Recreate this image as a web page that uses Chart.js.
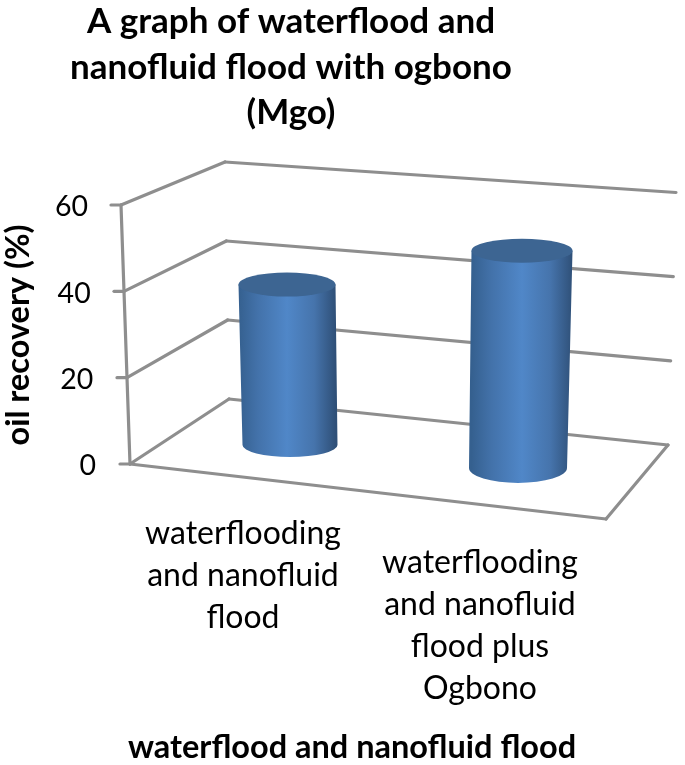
<!DOCTYPE html>
<html>
<head>
<meta charset="utf-8">
<script src="https://cdn.jsdelivr.net/npm/chart.js@4/dist/chart.umd.min.js"></script>
<style>
  html, body { margin: 0; padding: 0; background: #fff; }
  canvas { display: block; }
</style>
</head>
<body>
<canvas id="chart" width="685" height="765"></canvas>
<script>
const categories = ['waterflooding and nanofluid flood', 'waterflooding and nanofluid flood plus Ogbono'];
const categoryLines = [
    ['waterflooding', 'and nanofluid', 'flood'],
    ['waterflooding', 'and nanofluid', 'flood plus', 'Ogbono']
];
const recovery = [39, 52];
const yTicks = [0, 20, 40, 60];
const titleLines = ['A graph of waterflood and', 'nanofluid flood with ogbono', '(Mgo)'];
const xTitle = 'waterflood and nanofluid flood';
const yTitle = 'oil recovery (%)';

const FONT = 'Lato, "Open Sans", sans-serif';
const GRID = '#8e8e8e';

// the fake 3D box: how the flat scale maps onto the back wall and the floor
const backLeft = { x: 229, y: 399, ratio: 0.915, lean: -4 };
const backRight = { x: 668, y: 445, ratio: 0.975, lean: 8 };
const frontRight = { x: 606, y: 519 };
const axisLean = -9;
const tickLen = 10;

// where each cylinder stands on the floor, and how much depth shrinks it
const cylinders = [
    { dx: 41, dy: -19, shrink: 0.953, rTop: 48.5, rBase: 47.5, ry: 12, ryBase: 12, lean: -3 },
    { dx: 31, dy: 4, shrink: 0.968, rTop: 50.5, rBase: 49, ry: 12, ryBase: 15, lean: 4 }
];

function line(ctx, x1, y1, x2, y2) {
    ctx.beginPath();
    ctx.moveTo(x1, y1);
    ctx.lineTo(x2, y2);
    ctx.stroke();
}

const box3d = {
    id: 'box3d',
    beforeDatasetsDraw(chart) {
        const { ctx, scales: { x, y } } = chart;
        const y0 = y.getPixelForValue(0);
        const left = x.left;
        ctx.save();
        ctx.strokeStyle = GRID;
        ctx.lineWidth = 3.2;
        ctx.lineCap = 'round';
        ctx.lineJoin = 'round';
        yTicks.forEach(v => {
            const py = y.getPixelForValue(v);
            const t = v / 60;
            const ax = left + axisLean * t;
            const blx = backLeft.x + backLeft.lean * t;
            const bly = backLeft.y + (py - y0) * backLeft.ratio;
            const brx = backRight.x + backRight.lean * t;
            const bry = backRight.y + (py - y0) * backRight.ratio;
            line(ctx, ax - tickLen, py, ax, py);
            line(ctx, ax, py, blx, bly);
            line(ctx, blx, bly, brx, bry);
        });
        line(ctx, left, y0, left + axisLean, y.getPixelForValue(60));
        // floor
        line(ctx, left, y0, frontRight.x, frontRight.y);
        line(ctx, frontRight.x, frontRight.y, backRight.x, backRight.y);
        ctx.restore();
    },
    afterDatasetsDraw(chart) {
        const { ctx } = chart;
        chart.getDatasetMeta(0).data.forEach((bar, i) => {
            const c = cylinders[i];
            const baseX = bar.x + c.dx;
            const baseY = bar.base + c.dy;
            const topX = baseX + c.lean;
            const topY = baseY - (bar.base - bar.y) * c.shrink;

            const grad = ctx.createLinearGradient(topX - c.rTop, 0, topX + c.rTop, 0);
            grad.addColorStop(0, '#35608f');
            grad.addColorStop(0.2, '#4372aa');
            grad.addColorStop(0.5, '#5087c8');
            grad.addColorStop(0.78, '#4674ac');
            grad.addColorStop(1, '#2f5078');

            ctx.save();
            ctx.fillStyle = grad;
            ctx.beginPath();
            ctx.moveTo(topX - c.rTop, topY);
            ctx.lineTo(baseX - c.rBase, baseY);
            ctx.ellipse(baseX, baseY, c.rBase, c.ryBase, 0, Math.PI, 0, true);
            ctx.lineTo(topX + c.rTop, topY);
            ctx.closePath();
            ctx.fill();

            ctx.fillStyle = '#3d6592';
            ctx.beginPath();
            ctx.ellipse(topX, topY, c.rTop, c.ry, 0, 0, Math.PI * 2);
            ctx.fill();
            ctx.restore();
        });
    },
    afterDraw(chart) {
        const { ctx, scales: { x, y } } = chart;
        ctx.save();
        ctx.fillStyle = '#000';
        ctx.textAlign = 'center';
        ctx.textBaseline = 'middle';

        ctx.font = 'bold 35px ' + FONT;
        titleLines.forEach((t, i) => ctx.fillText(t, 291, 22 + i * 45.5));

        ctx.font = '28.5px ' + FONT;
        ctx.textAlign = 'right';
        yTicks.forEach(v => {
            const t = v / 60;
            ctx.fillText(String(v), 96 - 8 * t, y.getPixelForValue(v) + 2);
        });
        ctx.textAlign = 'center';

        ctx.font = '32px ' + FONT;
        const lineTop = [534, 563];
        const shift = [-6, -7];
        categoryLines.forEach((lines, i) => {
            lines.forEach((t, j) => ctx.fillText(t, x.getPixelForValue(i) + shift[i], lineTop[i] + j * 42));
        });

        ctx.font = 'bold 32.5px ' + FONT;
        ctx.fillText(xTitle, 352, 748);

        ctx.translate(19, 335);
        ctx.rotate(-Math.PI / 2);
        ctx.fillText(yTitle, 0, 0);
        ctx.restore();
    }
};

new Chart(document.getElementById('chart'), {
    type: 'bar',
    data: {
        labels: categories,
        datasets: [{
            label: yTitle,
            data: recovery,
            backgroundColor: 'rgba(0,0,0,0)'
        }]
    },
    options: {
        responsive: false,
        animation: false,
        layout: { padding: { left: 130, right: 79, top: 205, bottom: 301 } },
        plugins: { legend: { display: false }, title: { display: false }, tooltip: { enabled: false } },
        scales: {
            x: { display: false },
            y: { display: false, min: 0, max: 60, ticks: { stepSize: 20 } }
        }
    },
    plugins: [box3d]
});
</script>
</body>
</html>
